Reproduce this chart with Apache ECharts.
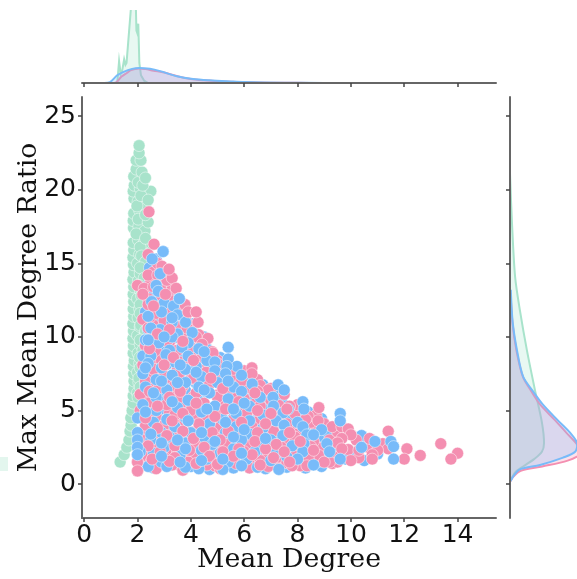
<!DOCTYPE html>
<html><head><meta charset="utf-8">
<style>html,body{margin:0;padding:0;background:#fff}#main{width:577px;height:579px;filter:blur(0.45px)}</style>
<script src="https://cdn.jsdelivr.net/npm/echarts@6/dist/echarts.min.js"></script>
</head><body><div id="main"></div>
<script>
const xTicks=[0,2,4,6,8,10,12,14];
const yTicks=[0,5,10,15,20,25];
const xTitle='Mean Degree';
const yTitle='Max Mean Degree Ratio';
const green=[[1.35,1.5],[1.5,2],[1.6,2.5],[1.68,3],[1.72,3.6],[1.76,4],[1.75,4.5],[1.8,5],[1.84,5.5],[1.84,6],[1.87,6.5],[1.87,7],[1.86,7.5],[1.85,8],[1.88,8.4],[1.84,8.9],[1.85,9.4],[1.83,9.9],[1.85,10.4],[1.83,10.9],[1.86,11.4],[1.84,11.9],[1.86,12.4],[1.84,12.9],[1.86,13.4],[1.83,13.9],[1.87,14.4],[1.85,14.9],[1.83,15.4],[1.86,15.9],[1.84,16.4],[1.85,17.4],[1.84,17.9],[1.86,18.4],[1.87,19.4],[1.84,19.9],[1.88,20.3],[1.86,20.9],
[2.0,6.2],[2.05,6.9],[2.0,7.6],[2.08,8.2],[2.02,8.9],[2.1,9.5],[2.0,10.1],[2.1,10.7],[2.02,11.3],[2.08,11.9],[2.0,12.6],[2.1,13.2],[2.03,13.8],[2.1,14.3],[2.0,15],[2.08,15.6],[2.03,16.6],[2.05,17.5],[2.08,18.6],[2.02,19.2],[2.1,20.1],[2.2,13.6],[2.25,14.8],[2.3,15.8],[2.25,16.4],[2.28,17.2],[2.3,18.9],[2.25,19.8],[2.3,11.9],[2.25,10.9],[2.2,9.9],
[1.95,17],[2.03,18],[1.98,18.9],[2.03,20.5],[1.95,21.4],[2.17,21.2],[1.95,22],[2.13,22],[2.06,22.5],[2.06,23],[2.5,19.9],[2.13,19.6],[2.4,19.3],[2.4,17.8],[2.1,16.1],[2.3,16.7],[2.15,15.5],[2.3,15.1],[2.1,14.7],[2.25,14],[2.05,13.5],[2.4,13.2],[2.15,12.8],[2.45,12],[2.1,12.2],[2.35,11.4],[2.1,11.6],[2.6,11.2],[2.12,10.8],[2.3,10.4],[2.1,9.8],[2.2,9.1],[2.08,8.6],[2.1,7.9],[2.05,7.2],[2.1,6.6],[2.02,5.9],[2.3,18.3],[2.2,20.3],[2.3,20.8]];
const blueFill=[[2.6,1.1],[4,1.2],[4.7,1],[5.6,1.1],[6.8,1.05],[7.6,1.15],[8.3,1.1],[8.9,1.2],[2.2,1.6],[3.3,1.65],[4.4,1.55],[5.7,1.7],[6.8,1.5],[7.9,1.6],[8.8,1.55],[9.8,1.7],[10.5,1.6],[3,2.1],[4.1,2.15],[4.8,2.05],[5.7,2.15],[6.7,2],[7.7,2.1],[8.4,2.2],[9.5,2.05],[10.1,2.15],[11,2.05],[2.5,2.7],[3.4,2.75],[4.6,2.65],[5.5,2.7],[6.4,2.8],[7.3,2.65],[8.7,2.7],[9.4,2.6],[10.6,2.75],[11.1,2.6],[2.2,3.3],[3,3.25],[3.9,3.35],[4.8,3.3],[6.2,3.2],[7.2,3.35],[8.9,3.25],[9.7,3.4],[10.4,3.3],[2.6,3.9],[3.5,3.85],[4.7,3.95],[5.4,3.9],[6.2,3.8],[7.1,3.95],[8.6,3.9],[9.2,3.4],[2.2,4.5],[3.4,4.55],[4.3,4.45],[5.6,4.5],[6.5,4.4],[7.6,4.55],[8.2,4.5],[8.9,4.45],[2.9,5.1],[3.8,5.15],[4.8,5],[5.8,5.1],[6.8,5.15],[7.7,4.6],[8.4,4.9],[2.4,5.7],[3.1,5.75],[4.3,5.65],[5.2,5.75],[6.3,5.6],[7.4,5.7],[2.8,6.3],[3.8,6.35],[4.6,6.25],[5.5,6.3],[6.1,6.35],[7.1,6.2],[2.3,6.9],[3.1,6.95],[4.2,6.85],[5.2,6.9],[6,6.85],[6.7,6.75],[2.6,7.5],[3.6,7.55],[4.6,7.45],[5.5,7.5],[6.2,7.35],[2.3,8.1],[3.1,8.15],[3.8,8.05],[4.7,8.1],[5.7,7.7],[2.9,8.7],[3.6,8.75],[4.3,8.65],[5.1,8.6],[2.4,9.3],[3,9.35],[3.7,9.25],[4.6,9.2],[2.7,9.9],[3.4,9.95],[4.1,9.85],[2.4,10.5],[3,10.55],[3.9,10.45],[4.5,10],[2.8,11.1],[3.6,11.15],[4.1,10.9],[2.3,11.7],[3.2,11.75],[3.6,11.65],[2.6,12.3],[3.3,12.35],[2.6,12.9],[3.2,12.85],[2.4,13.5],[3,13.55],[2.8,14.1],[3.2,14.1],[2.45,14.7],[2.9,14.65],[2.7,15.3]];
const pinkFill=[[2.3,1.3],[3.5,1.35],[4.9,1.25],[6,1.3],[7.2,1.35],[8.1,1.25],[9.3,1.4],[2.75,1.8],[3.9,1.85],[5.3,1.75],[6.4,1.8],[7.3,1.85],[8.6,1.75],[9.4,1.85],[10.3,1.8],[2.3,2.4],[3.2,2.35],[4.2,2.45],[5.1,2.4],[6.2,2.5],[7,2.35],[8,2.4],[8.9,2.45],[9.9,2.35],[10.7,2.45],[2.7,3],[3.6,3.05],[4.4,2.95],[5.4,3.05],[6.6,3],[7.6,2.95],[8.4,3.05],[9.2,3],[10.2,3],[2.35,3.6],[3.2,3.65],[4.1,3.55],[5,3.6],[5.9,3.65],[6.9,3.55],[7.9,3.6],[8.7,3.65],[9.5,3.55],[2.8,4.2],[3.6,4.25],[4.5,4.15],[5.5,4.2],[6.5,4.25],[7.4,4.15],[8.5,4.2],[9,4.1],[2.4,4.8],[3.2,4.85],[4.2,4.75],[5.1,4.8],[6,4.85],[7,4.75],[7.9,4.8],[8.7,4.7],[2.6,5.4],[3.6,5.45],[4.5,5.35],[5.3,5.4],[6.4,5.45],[7.3,5.35],[8,5.4],[2.3,6],[3.3,6.05],[4.1,5.95],[5,6.05],[5.7,6],[6.8,5.95],[2.6,6.6],[3.7,6.65],[4.5,6.55],[5.5,6.6],[6.2,6.55],[7,6.5],[2.4,7.2],[3.2,7.25],[4,7.15],[5,7.2],[5.7,7.25],[6.5,7.1],[2.8,7.8],[3.5,7.85],[4.4,7.75],[5.3,7.8],[6,7.7],[2.5,8.4],[3.2,8.45],[4,8.35],[5,8.4],[5.4,8.2],[2.7,9],[3.4,9.05],[4.1,8.95],[4.8,9],[2.5,9.6],[3.2,9.65],[3.9,9.55],[4.4,9.6],[2.9,10.2],[3.7,10.25],[4.3,10.15],[2.6,10.8],[3.3,10.85],[4,10.75],[2.5,11.4],[3.1,11.45],[3.8,11.35],[2.8,12],[3.5,12.05],[2.4,12.6],[3.2,12.55],[2.9,13.2],[3.3,13.25],[2.5,13.8],[3.1,13.85],[2.6,14.4],[3,14.45],[2.75,15],[2.4,15.6]];
const pink=[[2.62,16.3],[2.92,14.8],[3.18,14.6],[3.3,14],[2.4,14.2],[2.76,14.2],[2,13.5],[2.25,13.3],[2.6,13.4],[3.45,13.3],[2.9,12.8],[2.4,12.2],[3.78,12.2],[3.2,11.8],[2.7,11.6],[2.2,11.2],[3.7,11.4],[3,11.1],[4.27,11],[3.5,10.7],[2.4,10.6],[3.86,10.6],[4.64,9.9],[4.2,10],[2.6,10],[3.1,9.7],[4.42,9.5],[2.3,9.4],[4,9.3],[3.5,9.1],[4.83,8.9],[2.9,8.4],[4.4,8.6],[3.7,8.3],[5,8.2],[2.2,8.1],[6.29,7.9],[5.6,7.8],[2.6,7.8],[4.57,7.6],[3.57,7.5],[6.29,7.5],[3,7.4],[5.2,7.3],[4.1,7.2],[2.3,7],[5.9,7],[6.6,6.7],[4.7,6.8],[3.4,6.7],[6.9,6.4],[2.8,6.5],[5.4,6.4],[6.5,6.3],[4.2,6.2],[7.5,6.1],[2.1,6.1],[3.6,5.9],[5,5.9],[6,5.8],[7,5.7],[2.5,5.6],[4.5,5.5],[3.1,5.4],[5.6,5.3],[6.6,5.3],[7.7,5.3],[8.8,5.2],[2.1,5],[4,5],[5,4.9],[7.2,4.9],[6.1,4.8],[3.4,4.7],[2.7,4.6],[8.4,4.6],[4.6,4.4],[5.6,4.4],[6.9,4.4],[8.3,4.4],[8.77,4.3],[3.8,4.2],[2.3,4],[3,4],[7.6,4.1],[5.1,3.9],[6.3,3.9],[9.3,3.9],[9.66,3.9],[9.9,3.75],[4.3,3.7],[7.1,3.6],[11.4,3.6],[2.6,3.4],[8,3.4],[3.5,3.3],[5.7,3.3],[10,3.35],[6.7,3.2],[7.9,3.2],[4.7,3.1],[10.7,3.1],[9.66,3.1],[2.2,3],[3.1,2.9],[8.6,2.9],[5.3,2.8],[6.2,2.8],[9.5,2.8],[13.37,2.75],[11.2,2.75],[4.1,2.7],[7.4,2.5],[8.5,2.55],[2.7,2.5],[4.9,2.4],[11.4,2.4],[12.1,2.4],[9.66,2.4],[10.3,2.3],[11,2.3],[3.5,2.2],[6,2.2],[6.9,2.1],[5.4,2],[14,2.1],[12.6,1.95],[10.8,2],[2.3,1.9],[8.8,1.95],[4.2,1.9],[7.9,1.9],[3,1.8],[8.4,1.8],[5,1.7],[12,1.7],[13.75,1.7],[10.8,1.7],[6.6,1.6],[10,1.6],[2.5,1.5],[2,1.5],[3.9,1.5],[7.6,1.45],[9.5,1.5],[9.2,1.5],[9,1.5],[5.7,1.4],[6.9,1.2],[3.3,1.3],[4.6,1.3],[8.35,1.25],[7.8,1.25],[6.2,1.1],[2,0.9],[2.7,1.05],[3.7,0.95],[5.1,1.05]];
const blue=[[2.96,15.8],[2.55,15.3],[2.85,14.3],[2.7,13.5],[2.78,13.1],[3.57,12.6],[2.53,12.4],[3,12.3],[3.35,12.1],[3.5,11.5],[2.9,11.7],[2.4,11.4],[3.8,11],[3.3,11],[2.85,10.5],[2.5,10.6],[3.5,10.2],[4.05,10.3],[3.3,10],[2.3,9.8],[2.8,9.6],[3.9,9.6],[3.67,9.3],[4.3,9.2],[5.4,9.3],[3.2,9.1],[2.2,8.7],[2.5,8.7],[3.07,8.8],[3.9,8.7],[5.4,8.5],[4.6,8.4],[3.4,8.3],[4.9,8.3],[5.73,8],[5.35,8],[2.4,8.2],[4.2,8],[2.9,7.9],[3.8,7.8],[4.9,7.7],[5.3,7.5],[2.2,7.5],[3.3,7.4],[4.4,7.3],[5.9,7.4],[2.7,7.1],[3.8,6.9],[5,6.9],[7.27,6.75],[6.3,6.8],[2.3,6.6],[4.3,6.6],[3.1,6.4],[5.6,6.6],[5.9,6.3],[7.5,6.4],[4.7,6.2],[7.08,5.9],[6.6,5.9],[2.7,5.9],[3.9,5.7],[5.4,5.8],[2.2,5.4],[8.2,5.6],[4.9,5.3],[6.2,5.3],[3.5,5.2],[8.24,5.1],[7.65,5.1],[7.1,5.3],[2.7,5],[4.4,4.9],[5.7,4.8],[9.6,4.8],[7.46,4.85],[6.7,4.7],[2,4.5],[3.1,4.4],[3.8,4.5],[5.2,4.4],[6.2,4.3],[7.2,4.3],[8,4.2],[9.6,4.3],[2.6,4.2],[4.7,4.1],[3.4,3.9],[5.7,3.9],[7.5,4],[8.2,3.9],[6.7,3.8],[8.9,3.7],[4,3.5],[2,3.5],[2.9,3.5],[5.3,3.5],[6.2,3.4],[7.45,3.3],[8.35,3.35],[8.6,3.35],[4.5,3.2],[3.2,3.2],[5.9,3],[7,3],[2.5,3],[11.5,2.9],[10.9,2.9],[3.8,2.8],[4.8,2.7],[6.6,2.6],[8.24,2.75],[9.1,2.75],[7.8,2.6],[2,2.5],[3,2.5],[5.6,2.4],[10.4,2.5],[11.6,2.55],[4.4,2.3],[6.4,2.2],[7.2,2.1],[8.2,2.2],[9.2,2.2],[2.6,2.1],[3.6,2],[2,2],[5.1,2.1],[7.6,1.85],[9.6,1.7],[11.6,1.7],[8,1.7],[4.6,1.7],[6.1,1.7],[2.9,1.5],[5.4,1.5],[7,1.6],[3.1,1.2],[3.8,1.15],[4.3,1.05],[5.2,1],[5.9,1.25],[6.5,1.15],[7.3,1],[2.4,1.2],[8.6,1.3]];
const pinkOver=[[2.43,18.5],[3.18,14.6],[2.2,12.9],[3.05,12.9],[2.6,12.1],[3.9,11.7],[3.2,10.5],[2.75,10.2],[4.2,11.7],[3.7,9.7],[2.45,9.2],[3.35,8.6],[4.1,8.4],[3,8.1],[4.75,7.2],[3.6,6.3],[2.45,6.3],[5.2,6.5],[6.4,6.2],[3.2,5.9],[4.2,5.5],[5.8,5.6],[7.6,5.1],[2.75,5.3],[5.3,5.1],[3.7,4.8],[6.5,5],[4.9,4.6],[2.3,4.5],[5.9,4.2],[7,4.8],[3.3,4.3],[4.3,4.1],[6.8,4.1],[2.75,3.8],[5.4,3.6],[3.7,3.6],[4.8,3.5],[6.5,3.5],[7.7,3.5],[3.1,3.3],[5.1,3],[4.1,3.1],[6.4,2.9],[7.2,2.7],[2.4,2.6],[3.4,2.6],[8.1,2.9],[4.5,2.5],[5.8,2.4],[6.8,2.4],[2.85,2.2],[3.95,2.3],[5.2,2.2],[7.5,2.2],[6.3,2],[8.6,2.3],[3.4,1.8],[4.7,1.9],[5.6,1.9],[7.1,1.8],[2.55,1.7],[4.2,1.4],[3.2,1.55],[6.6,1.3],[5,1.35],[7.7,1.5],[2,1.5],[2,0.9]];
const blueOver=[[2.96,15.8],[3.57,12.6],[3.3,11.3],[2.4,9.8],[3,10],[4.5,9],[3.6,8.1],[2.3,7.9],[4.2,7.6],[2.9,7],[3.5,6.9],[5.4,7],[4.5,6.4],[2.6,6.2],[3.3,5.6],[6,5.5],[4.6,5.1],[2.3,4.9],[5.6,5.1],[3.9,4.3],[5.3,4.2],[2.5,3.4],[4.4,3.5],[6,3.7],[3.5,3],[5.6,3.2],[2.9,2.8],[4.9,2.9],[6.8,3.1],[3.8,2.4],[2.1,2.2],[2.9,1.9],[4.4,1.6],[5.9,2.1],[3.6,1.5],[5.2,1.7],[2,3],[2,2.5],[2,2]];
const pinkTopX=[1.0,1.2,1.4,1.6,1.76,2.06,2.3,2.6,3,3.5,4,4.5,5,6,7,8,9];
const pinkTopD=[0,.015,.14,.22,.285,.32,.305,.27,.23,.15,.09,.06,.04,.02,.008,.003,0];
const blueTopX=[0.75,0.97,1.24,1.46,1.8,2.06,2.47,2.85,3.48,4.08,4.7,5.5,6,7.5,9];
const blueTopD=[0,.02,.17,.24,.31,.33,.31,.26,.15,.09,.06,.035,.022,.007,0];
const greenTopX=[1.24,1.31,1.37,1.42,1.5,1.55,1.59,1.65,1.79,1.93,1.96,1.99,2.03,2.07,2.13,2.25,2.4];
const greenTopD=[0,.48,.2,.25,.52,.4,.44,.88,1.9,1.9,1.15,1.1,1.3,.44,.17,.05,0];
const blueSideY=[13.2,11,9.1,7.3,6.3,5.4,4.4,3.5,2.8,2.2,1.8,1.3,1,.5,.2];
const blueSideD=[.003,.01,.026,.049,.086,.123,.175,.224,.25,.243,.198,.112,.037,.011,.002];
const pinkSideY=[13,11,9.1,7.3,6.3,5.4,4.4,3.5,2.7,2.1,1.6,1.2,.9,.5,.2];
const pinkSideD=[.002,.009,.024,.048,.08,.113,.165,.21,.25,.265,.215,.12,.04,.012,.002];
const greenSideY=[21.1,17.7,14.1,11.8,9.1,6.4,4.2,2.8,2.2,1.7,1.2,.8,.3];
const greenSideD=[0,.0075,.019,.037,.063,.093,.119,.127,.119,.09,.049,.019,.004];

const C={pink:'#F48FB1',blue:'#78BBF9',green:'#A8E3CB'};
const zipTop=(xs,ds)=>[[xs[0],0]].concat(xs.map((x,i)=>[x,ds[i]])).concat([[xs[xs.length-1],0]]);
const zipSide=(ys,ds)=>[[0,ys[0]]].concat(ys.map((y,i)=>[ds[i],y])).concat([[0,ys[ys.length-1]]]);
function kde(axis,pts,color){
  const s=color===C.green&&axis===1?0:0.3;
  return {type:'custom',xAxisIndex:axis,yAxisIndex:axis,clip:true,silent:true,z:1,data:pts,encode:{x:0,y:1},
    renderItem(params,api){
      if(params.dataIndex!==0) return null;
      const p=pts.map(d=>api.coord(d));
      return {type:'group',children:[
        {type:'polygon',shape:{points:p,smooth:s},style:{fill:color,opacity:.26}},
        {type:'polyline',shape:{points:p.slice(1,-1),smooth:s},style:{fill:null,stroke:color,lineWidth:2}}
      ]};
    }};
}
const scatter=(d,color)=>({type:'scatter',xAxisIndex:0,yAxisIndex:0,data:d,symbolSize:12,silent:true,
  itemStyle:{color,opacity:1,borderColor:'rgba(255,255,255,.6)',borderWidth:0.8}});
const lineStyle={color:'#666',width:2};
const tickStyle={length:4,lineStyle:{color:'#444',width:1.5}};
const hidden={show:false};
const xBase={type:'value',z:5,min:-0.08,max:15.44,splitLine:hidden,axisLine:{show:true,onZero:false,lineStyle}};
const yBase={type:'value',z:5,min:-2.3,max:26.3,splitLine:hidden,axisLine:{show:true,onZero:false,lineStyle}};
const chart=echarts.init(document.getElementById('main'),null,{renderer:'canvas'});
chart.setOption({
  animation:false,backgroundColor:'#fff',
  grid:[
    {left:82,top:97,width:414,height:421,outerBoundsMode:'none'},
    {left:82,top:10,width:414,height:73,outerBoundsMode:'none'},
    {left:510,top:97,width:67,height:421,outerBoundsMode:'none'}
  ],
  xAxis:[
    Object.assign({},xBase,{gridIndex:0,name:xTitle,nameLocation:'middle',nameGap:29,nameMoveOverlap:false,
      nameTextStyle:{fontFamily:'DejaVu Serif',fontSize:26.8,color:'#111'},
      axisTick:Object.assign({customValues:xTicks},tickStyle),
      axisLabel:{customValues:xTicks,fontFamily:'DejaVu Sans',fontSize:25,color:'#111',margin:5,formatter:v=>String(v)}}),
    Object.assign({},xBase,{gridIndex:1,axisTick:Object.assign({customValues:xTicks},tickStyle),axisLabel:hidden}),
    {type:'value',gridIndex:2,min:0,max:.25,show:false}
  ],
  yAxis:[
    Object.assign({},yBase,{gridIndex:0,name:yTitle,nameLocation:'middle',nameGap:39,nameMoveOverlap:false,
      nameTextStyle:{fontFamily:'DejaVu Serif',fontSize:26.6,color:'#111'},
      axisTick:Object.assign({customValues:yTicks},tickStyle),
      axisLabel:{customValues:yTicks,fontFamily:'DejaVu Sans',fontSize:25,color:'#111',margin:6,formatter:v=>String(v)}}),
    {type:'value',gridIndex:1,min:0,max:1.6,show:false},
    Object.assign({},yBase,{gridIndex:2,axisTick:Object.assign({customValues:yTicks},tickStyle),axisLabel:hidden})
  ],
  graphic:[{type:'rect',shape:{x:0,y:457,width:8,height:14},style:{fill:'#E3F6EE'}}],
  series:[
    scatter(green,C.green),
    scatter(blueFill,C.blue),
    scatter(pinkFill,C.pink),
    scatter(pink,C.pink),
    scatter(blue,C.blue),
    scatter(pinkOver,C.pink),
    scatter(blueOver,C.blue),
    kde(1,zipTop(greenTopX,greenTopD),C.green),
    kde(1,zipTop(pinkTopX,pinkTopD),C.pink),
    kde(1,zipTop(blueTopX,blueTopD),C.blue),
    kde(2,zipSide(greenSideY,greenSideD),C.green),
    kde(2,zipSide(pinkSideY,pinkSideD),C.pink),
    kde(2,zipSide(blueSideY,blueSideD),C.blue)
  ]
});
</script></body></html>
